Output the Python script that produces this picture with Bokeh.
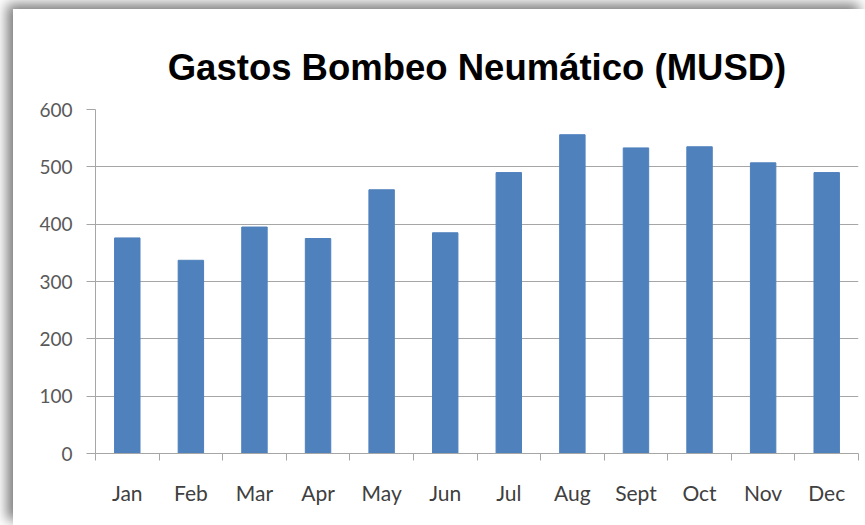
from bokeh.plotting import figure
from bokeh.models import FixedTicker, LinearAxis, Range1d
from bokeh.embed import file_html
from bokeh.resources import INLINE

# ---- data ----
months = ["Jan", "Feb", "Mar", "Apr", "May", "Jun", "Jul", "Aug", "Sept", "Oct", "Nov", "Dec"]
gastos = [376, 337, 395, 375, 460, 385, 490, 556, 533, 535, 507, 490]
y_ticks = [0, 100, 200, 300, 400, 500, 600]
title_text = "Gastos Bombeo Neumático (MUSD)"

positions = list(range(1, len(months) + 1))
boundaries = [i + 0.5 for i in range(0, len(months) + 1)]

p = figure(width=852, height=516, output_backend="svg", toolbar_location=None,
           x_range=Range1d(0.5, len(months) + 0.5), y_range=Range1d(y_ticks[0], y_ticks[-1]),
           min_border_left=82, min_border_right=7, min_border_top=100, min_border_bottom=72,
           x_axis_location=None)
p.margin = (9, 0, 0, 13)
p.styles = {"box-shadow": "-6px -5px 12px #7a7a7a"}

p.vbar(x=positions, top=gastos, width=0.4, color="#4F81BD")

GRAY = "#a6a6a6"

# boundary ticks axis (no labels)
ax1 = LinearAxis(ticker=FixedTicker(ticks=boundaries),
                 major_label_overrides={b: "" for b in boundaries},
                 major_label_standoff=0, major_tick_out=7, major_tick_in=0,
                 minor_tick_line_color=None, axis_line_color=GRAY, major_tick_line_color=GRAY)
p.add_layout(ax1, "below")

# month labels axis
ax2 = LinearAxis(ticker=FixedTicker(ticks=positions),
                 major_label_overrides={pos: m for pos, m in zip(positions, months)},
                 major_tick_line_color=None, minor_tick_line_color=None, axis_line_color=None,
                 major_label_standoff=13, major_label_text_font="Lato",
                 major_label_text_font_size="21px", major_label_text_color="#404040")
p.add_layout(ax2, "below")

for g in p.xgrid:
    g.visible = False

p.yaxis.ticker = FixedTicker(ticks=y_ticks)
p.yaxis.major_tick_out = 9
p.yaxis.major_tick_in = 0
p.yaxis.minor_tick_line_color = None
p.yaxis.axis_line_color = GRAY
p.yaxis.major_tick_line_color = GRAY
p.yaxis.major_label_text_font = "Lato"
p.yaxis.major_label_text_font_size = "19px"
p.yaxis.major_label_text_color = "#595959"
p.yaxis.major_label_standoff = 14

p.ygrid.grid_line_color = GRAY
p.outline_line_color = None

p.title.text = title_text
p.title.align = "center"
p.title.text_font = "Liberation Sans"
p.title.text_font_style = "bold"
p.title.text_font_size = "36.5px"
p.title.text_color = "#000000"
p.title.standoff = 43

open("out.html", "w").write(file_html(p, INLINE))
